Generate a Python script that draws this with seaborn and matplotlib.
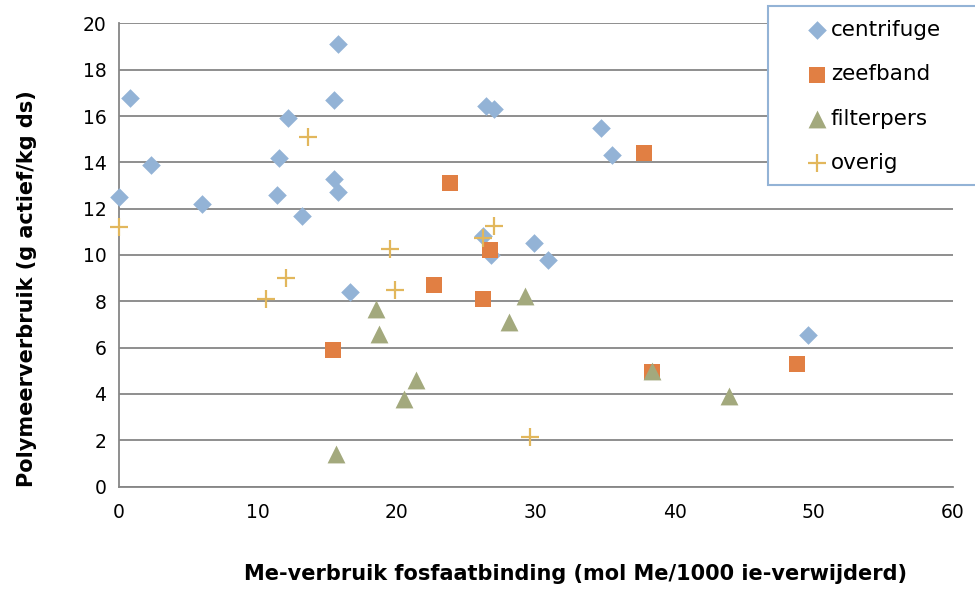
import matplotlib
matplotlib.use("Agg")
import matplotlib.pyplot as plt
from matplotlib.patches import Rectangle
import seaborn as sns
import pandas as pd

# ---- data ----
centrifuge_x = [15.8, 0.8, 15.5, 12.2, 11.5, 2.3, 15.5, 15.8, 11.4, 0.0, 6.0, 13.2, 16.6,
                26.4, 27.0, 34.7, 35.5, 26.2, 26.8, 29.9, 30.9, 49.6]
centrifuge_y = [19.1, 16.8, 16.7, 15.9, 14.2, 13.9, 13.3, 12.7, 12.6, 12.5, 12.2, 11.7, 8.4,
                16.45, 16.3, 15.5, 14.3, 10.8, 10.0, 10.5, 9.8, 6.55]
zeefband_x = [15.4, 23.8, 26.7, 22.7, 26.2, 37.8, 38.4, 48.8]
zeefband_y = [5.9, 13.1, 10.2, 8.7, 8.1, 14.4, 4.95, 5.3]
filterpers_x = [15.6, 18.5, 18.7, 21.4, 20.5, 29.2, 28.1, 38.4, 43.9]
filterpers_y = [1.4, 7.65, 6.6, 4.6, 3.8, 8.25, 7.1, 5.0, 3.9]
overig_x = [13.6, 0.0, 12.0, 10.6, 19.5, 19.9, 27.0, 26.2, 29.6]
overig_y = [15.1, 11.2, 9.0, 8.1, 10.25, 8.5, 11.25, 10.75, 2.15]

series_names = ["centrifuge", "zeefband", "filterpers", "overig"]
x_ticks = [0, 10, 20, 30, 40, 50, 60]
y_ticks = [0, 2, 4, 6, 8, 10, 12, 14, 16, 18, 20]

frames = []
for name, xs, ys in zip(series_names,
                        [centrifuge_x, zeefband_x, filterpers_x, overig_x],
                        [centrifuge_y, zeefband_y, filterpers_y, overig_y]):
    frames.append(pd.DataFrame({"x": xs, "y": ys, "type": name}))
df = pd.concat(frames, ignore_index=True)

sns.set_theme(style="white")
plt.rcParams['font.family'] = ['DejaVu Sans']
plt.rcParams['text.color'] = 'black'

colors = {"centrifuge": "#93B3D6", "zeefband": "#E17F43",
          "filterpers": "#A3A97D", "overig": "#E2B75C"}
markers = {"centrifuge": "D", "zeefband": "s", "filterpers": "^", "overig": "+"}
sizes = {"centrifuge": 90, "zeefband": 125, "filterpers": 165, "overig": 165}

fig = plt.figure(figsize=(9.75, 5.9), dpi=100)
ax = fig.add_axes([0.122, 0.1753, 0.855, 0.785])

for name in series_names:
    sub = df[df["type"] == name]
    kw = dict(linewidth=0) if markers[name] != "+" else dict(linewidth=1.6)
    sns.scatterplot(data=sub, x="x", y="y", ax=ax, color=colors[name],
                    marker=markers[name], s=sizes[name], label=name,
                    zorder=3, legend=True, **kw)
for coll in ax.collections:
    coll.set_clip_on(False)

ax.set_xlim(0, 60)
ax.set_ylim(0, 20)
ax.set_xticks(x_ticks)
ax.set_yticks(y_ticks)
ax.tick_params(axis="both", labelsize=13.5, colors="#868686", labelcolor="black",
               length=5, width=1.2, direction="out", pad=4)
ax.tick_params(axis="x", pad=7)
ax.grid(axis="y", color="#868686", linewidth=1.3)
ax.set_axisbelow(True)
for sp in ["top", "right"]:
    ax.spines[sp].set_visible(False)
for sp in ["left", "bottom"]:
    ax.spines[sp].set_color("#868686")
    ax.spines[sp].set_linewidth(1.3)
ax.set_xlabel("")
ax.set_ylabel("")

handles, labels = ax.get_legend_handles_labels()
if ax.get_legend() is not None:
    ax.get_legend().remove()

fig.text(575 / 975, 1 - 574 / 590, "Me-verbruik fosfaatbinding (mol Me/1000 ie-verwijderd)",
         ha="center", va="center", fontsize=15, fontweight="bold", color="black")
fig.text(27 / 975, 1 - 289 / 590, "Polymeerverbruik (g actief/kg ds)",
         ha="center", va="center", rotation=90, fontsize=15, fontweight="bold", color="black")

# legend frame
fig.add_artist(Rectangle((768 / 975, 1 - 185 / 590), 0.25, 179 / 590,
                         transform=fig.transFigure, facecolor="white",
                         edgecolor="#93B3D6", linewidth=1.5, zorder=2))
leg = fig.legend(handles, labels, loc="upper left",
                 bbox_to_anchor=(806 / 975, 1 - 20 / 590),
                 bbox_transform=fig.transFigure, frameon=False,
                 fontsize=15.5, borderpad=0, borderaxespad=0,
                 labelspacing=1.13, handletextpad=0.15, handlelength=1.0,
                 labelcolor="black")
leg.set_zorder(3)

fig.savefig("out.png", dpi=100)
